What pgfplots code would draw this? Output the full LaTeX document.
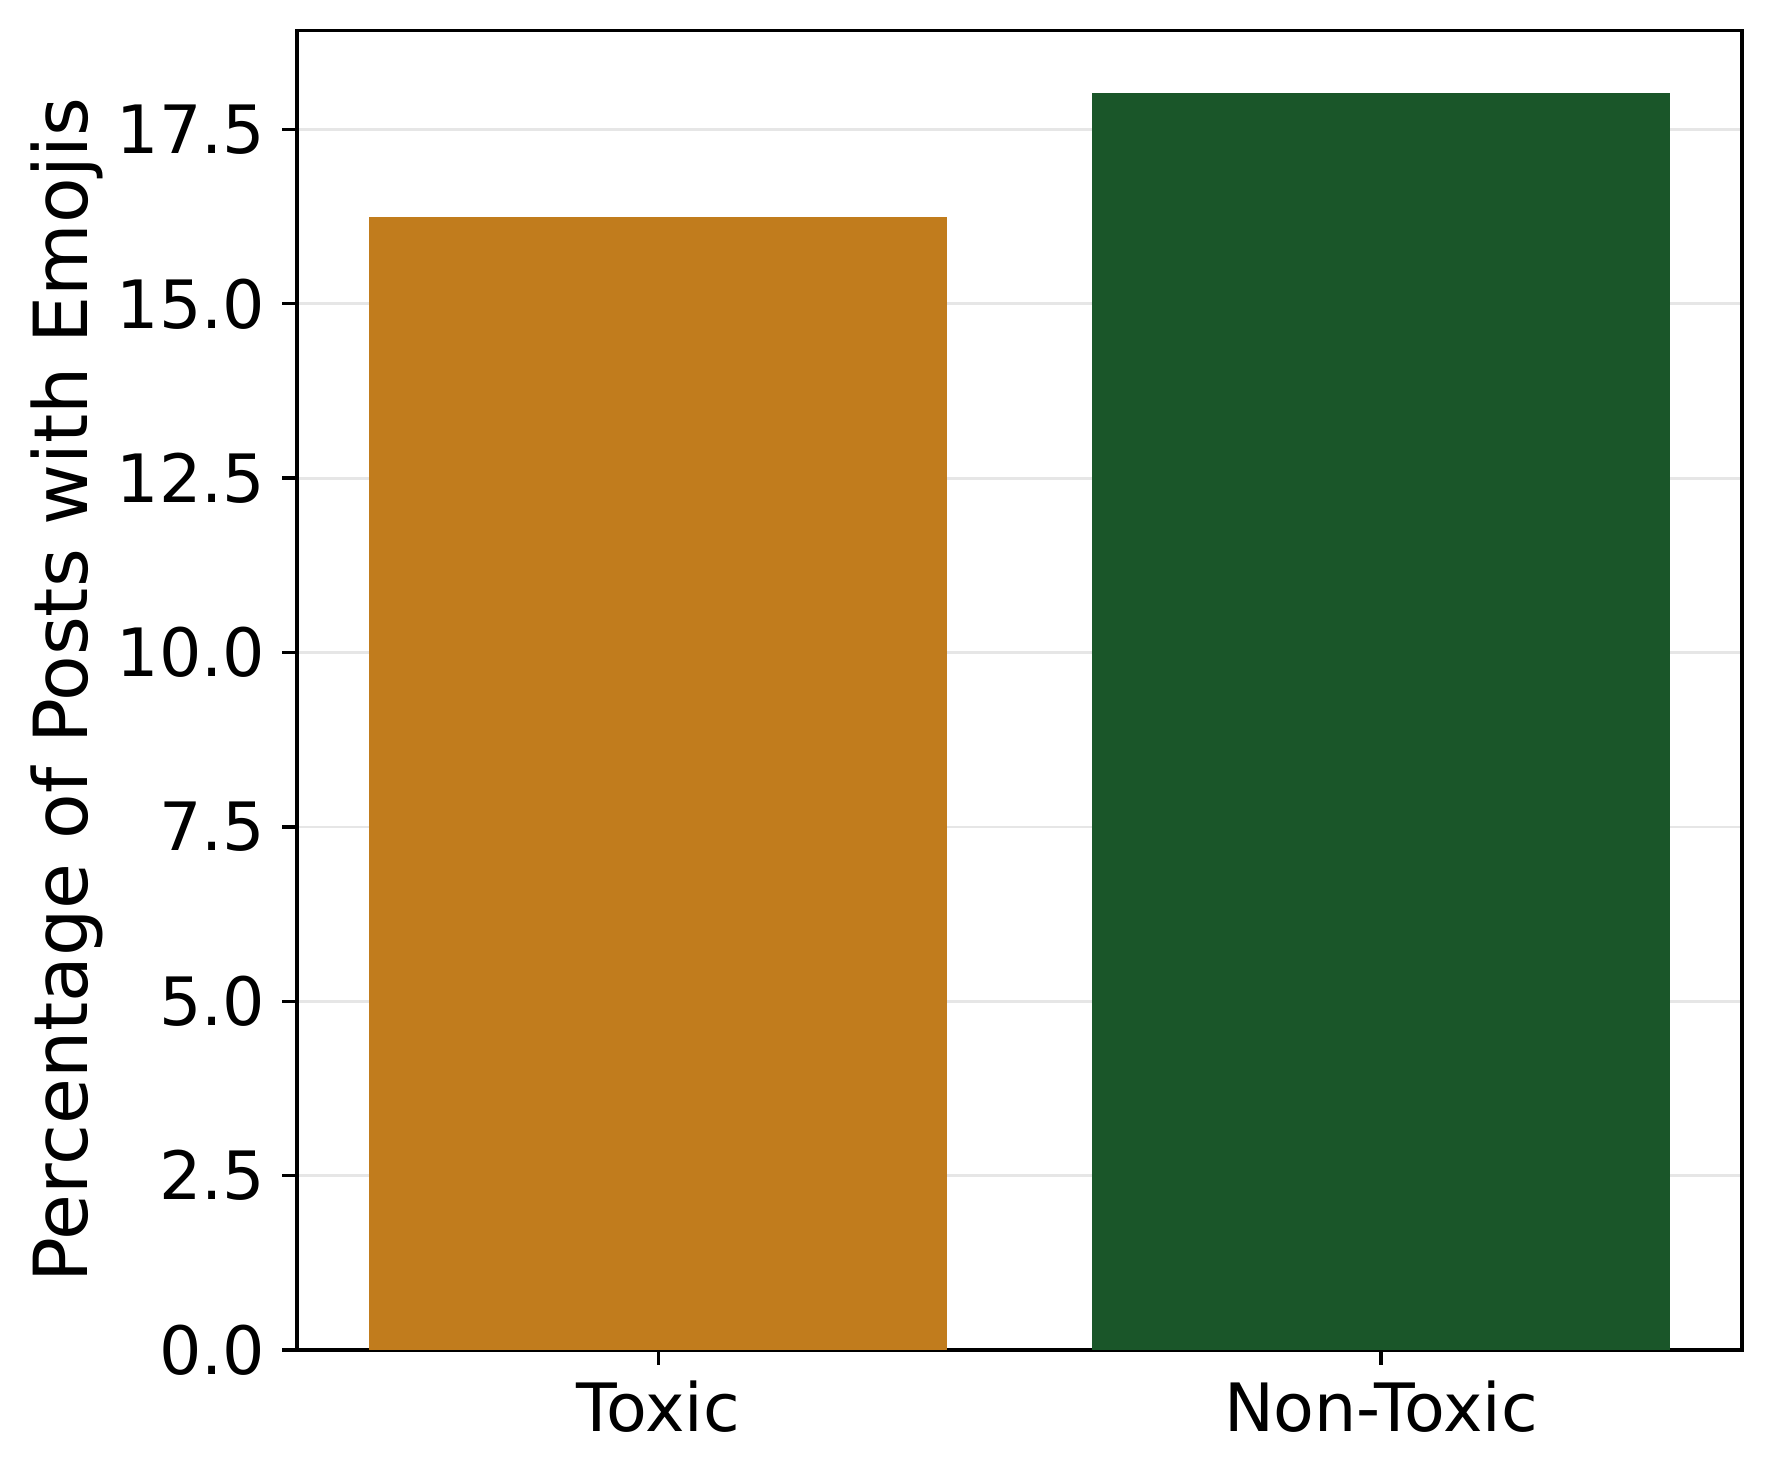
\documentclass[border=0pt]{standalone}
\usepackage{fontspec}
\setmainfont{DejaVu Sans}
\usepackage{pgfplots}
\pgfplotsset{compat=1.18}

\definecolor{toxic}{RGB}{193,124,29}
\definecolor{nontoxic}{RGB}{26,86,41}
\definecolor{gridgray}{RGB}{230,230,230}

% grid below the bars, axis lines above them
\pgfplotsset{
  layers/grid below/.define layer set={
    axis background,axis grid,main,axis ticks,axis lines,
    axis tick labels,axis descriptions,axis foreground}{},
}

\begin{document}
\begin{tikzpicture}
\begin{axis}[
  set layers=grid below,
  scale only axis, width=346.8bp, height=316.7bp,
  xmin=-0.5, xmax=1.5, ymin=0, ymax=18.92,
  xtick={0,1}, xticklabels={Toxic,Non-Toxic},
  ytick={0,2.5,...,17.5},
  yticklabel style={/pgf/number format/fixed, /pgf/number format/fixed zerofill,
    /pgf/number format/precision=1},
  /pgf/number format/assume math mode=true,
  tick label style={font=\fontsize{16bp}{19bp}\selectfont, inner sep=0pt},
  yticklabel style={xshift=-3.9bp},
  xticklabel style={yshift=-3.7bp},
  tickpos=left, tick align=outside,
  major tick length=3.5bp,
  every tick/.style={black, line width=0.8bp},
  axis line style={line width=0.8bp},
  ymajorgrids, grid style={gridgray, line width=0.65bp},
  ylabel={Percentage of Posts with Emojis},
  ylabel style={at={(rel axis cs:0,0.5)}, anchor=base,
    yshift=50.2bp, inner sep=0pt, font=\fontsize{17.9bp}{21bp}\selectfont},
]
\addplot[ybar, bar width=0.8, bar shift=0pt, fill=toxic, draw=none]
  coordinates {(0,16.25)};
\addplot[ybar, bar width=0.8, bar shift=0pt, fill=nontoxic, draw=none]
  coordinates {(1,18.02)};
\end{axis}
\pgfresetboundingbox
\path ([shift={(-71.3bp,-30.24bp)}]current axis.south west)
  rectangle ([shift={(6.7bp,7.3bp)}]current axis.north east);
\end{tikzpicture}
\end{document}
